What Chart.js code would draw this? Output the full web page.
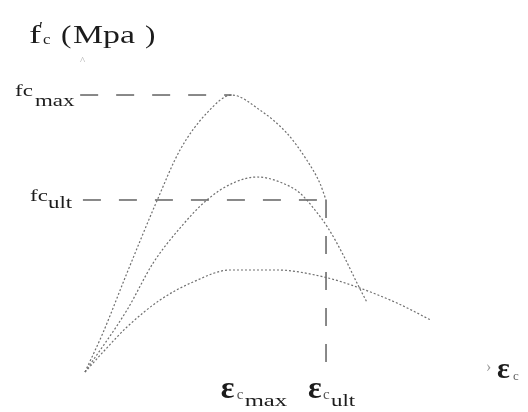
<!DOCTYPE html>
<html>
<head>
<meta charset="utf-8">
<script src="https://cdn.jsdelivr.net/npm/chart.js@4/dist/chart.umd.min.js"></script>
<style>
  html, body { margin: 0; padding: 0; background: #fff; }
  #wrap { width: 528px; height: 412px; }
</style>
</head>
<body>
<div id="wrap"><canvas id="myChart" width="528" height="412"></canvas></div>
<script>
// strain in per mille, stress in MPa
var highStrain = [0, 0.26, 0.61, 1.05, 1.38, 1.77, 2.13, 2.54, 2.93, 3.22, 3.41, 3.50];
var highStress = [0, 5.63, 14.3, 24.84, 32.06, 37.4, 40.0, 37.83, 34.51, 30.61, 27.29, 24.84];

var midStrain = [0, 0.61, 0.99, 1.38, 1.77, 2.15, 2.50, 2.83, 3.12, 3.34, 3.53, 3.75, 3.95, 4.10];
var midStress = [0, 8.95, 15.74, 20.79, 24.84, 27.29, 28.16, 27.44, 25.85, 23.39, 20.79, 16.9, 12.85, 9.96];

var lowStrain = [0, 0.29, 0.61, 1.09, 1.57, 2.11, 2.79, 3.47, 3.95, 4.53, 5.02];
var lowStress = [0, 3.18, 6.5, 10.4, 13.0, 14.73, 14.73, 13.72, 12.27, 9.96, 7.51];

var fcMax = 40.0;
var fcUlt = 24.84;
var epsCmax = 2.13;
var epsCult = 3.50;

function toPoints(xs, ys) {
    return xs.map(function (x, i) { return { x: x, y: ys[i] }; });
}

var curveStyle = {
    borderColor: '#6f6f6f',
    borderWidth: 1.2,
    borderDash: [2, 2],
    pointRadius: 0,
    cubicInterpolationMode: 'monotone',
    showLine: true,
    fill: false
};

var guideStyle = {
    borderColor: '#4a4a4a',
    borderWidth: 1.3,
    borderDash: [18, 18],
    pointRadius: 0,
    showLine: true,
    fill: false
};

// draw text, optionally stretched horizontally
function drawText(ctx, str, x, y, size, sx, color, weight) {
    ctx.save();
    ctx.font = (weight || 'normal') + ' ' + size + 'px "Liberation Serif", "DejaVu Serif", serif';
    ctx.fillStyle = color || '#1c1c1c';
    ctx.textBaseline = 'alphabetic';
    ctx.translate(x, y);
    ctx.scale(sx, 1);
    ctx.fillText(str, 0, 0);
    ctx.restore();
}

var labelPlugin = {
    id: 'labels',
    afterDatasetsDraw: function (chart) {
        var ctx = chart.ctx;
        var xs = chart.scales.x, ys = chart.scales.y;
        var yMax = ys.getPixelForValue(fcMax);
        var yUlt = ys.getPixelForValue(fcUlt);
        var xMax = xs.getPixelForValue(epsCmax);
        var xUlt = xs.getPixelForValue(epsCult);
        var y0 = ys.getPixelForValue(0);

        // axis title
        drawText(ctx, 'f', 29, 43, 26, 1.4);
        drawText(ctx, '\u2032', 39, 35, 18, 1.0);
        drawText(ctx, 'c', 43, 44, 14, 1.2);
        drawText(ctx, '(', 61, 43, 26, 1.2);
        drawText(ctx, 'Mpa', 73, 43, 26, 1.3);
        drawText(ctx, ')', 145, 43, 26, 1.2);
        drawText(ctx, '^', 80, 64, 11, 1.0, '#b0b0b0');

        // stress labels
        drawText(ctx, 'fc', 15, yMax + 1, 17, 1.35);
        drawText(ctx, 'max', 35, yMax + 11, 17, 1.35);
        drawText(ctx, 'fc', 30, yUlt + 1, 17, 1.35);
        drawText(ctx, 'ult', 48, yUlt + 8, 17, 1.35);

        // strain labels
        drawText(ctx, '\u03b5', xMax - 11, 398, 32, 1.0, '#1c1c1c', 'bold');
        drawText(ctx, 'c', xMax + 5, 399, 15, 1.0, '#555');
        drawText(ctx, 'max', xMax + 13, 406, 17, 1.45);
        drawText(ctx, '\u03b5', xUlt - 18, 398, 32, 1.0, '#1c1c1c', 'bold');
        drawText(ctx, 'c', xUlt - 3, 399, 15, 1.0, '#555');
        drawText(ctx, 'ult', xUlt + 5, 406, 17, 1.35);

        // strain axis end
        drawText(ctx, '\u203a', 486, y0, 16, 1.0, '#9a9a9a');
        drawText(ctx, '\u03b5', 497, y0 + 6, 30, 1.0, '#1c1c1c', 'bold');
        drawText(ctx, 'c', 513, y0 + 8, 13, 1.0, '#666');
    }
};

var ctx = document.getElementById('myChart').getContext('2d');

var myChart = new Chart(ctx, {
    type: 'scatter',
    data: {
        datasets: [
            Object.assign({ data: toPoints(highStrain, highStress) }, curveStyle),
            Object.assign({ data: toPoints(midStrain, midStress) }, curveStyle),
            Object.assign({ data: toPoints(lowStrain, lowStress) }, curveStyle),
            Object.assign({ data: [{ x: -0.07, y: fcMax }, { x: epsCmax, y: fcMax }] }, guideStyle),
            Object.assign({ data: [{ x: -0.03, y: fcUlt }, { x: epsCult, y: fcUlt }] }, guideStyle),
            Object.assign({ data: [{ x: epsCult, y: fcUlt }, { x: epsCult, y: 0 }] }, guideStyle)
        ]
    },
    options: {
        responsive: false,
        animation: false,
        layout: { padding: 0 },
        plugins: {
            legend: { display: false },
            tooltip: { enabled: false }
        },
        scales: {
            x: { type: 'linear', display: false, min: -1.234, max: 6.433 },
            y: { type: 'linear', display: false, min: -5.776, max: 53.72 }
        }
    },
    plugins: [labelPlugin]
});
</script>
</body>
</html>
